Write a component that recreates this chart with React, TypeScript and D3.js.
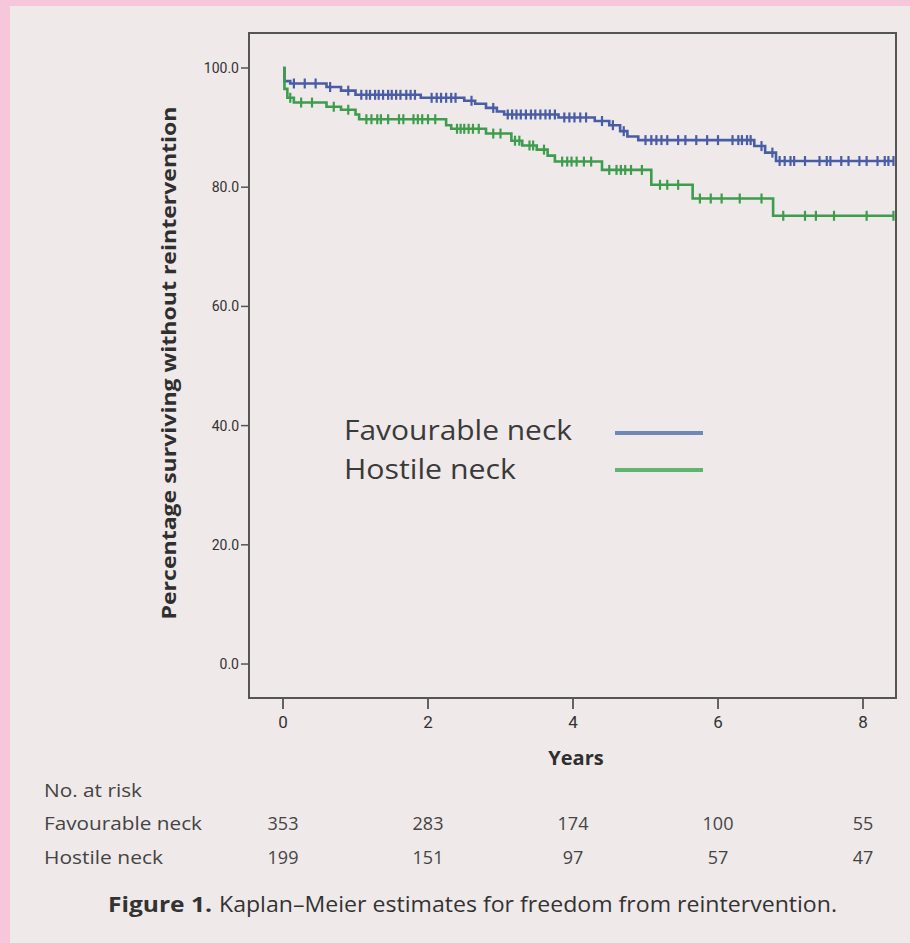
import React from 'react';
import * as d3 from 'd3';

const yearTicks = [0, 2, 4, 6, 8];
const survTicks = [0, 20, 40, 60, 80, 100];

const favTime = [0, 0.02, 0.1, 0.6, 0.8, 1.0, 1.9, 2.5, 2.65, 2.8, 2.95, 3.05, 3.8, 4.3, 4.5, 4.65, 4.75, 4.9, 6.5, 6.65, 6.8, 8.43];
const favSurv = [100, 97.8, 97.4, 96.8, 96.2, 95.5, 95.0, 94.5, 94.0, 93.3, 92.7, 92.2, 91.7, 91.1, 90.4, 89.4, 88.5, 87.9, 86.9, 85.8, 84.4, 84.4];
const favCensor = [0.15, 0.3, 0.45, 0.65, 0.9, 1.08, 1.15, 1.2, 1.27, 1.32, 1.38, 1.45, 1.5, 1.56, 1.62, 1.7, 1.76, 1.82, 2.05, 2.12, 2.18, 2.25, 2.32, 2.38, 2.6, 2.9, 3.1, 3.16, 3.22, 3.28, 3.35, 3.42, 3.48, 3.55, 3.62, 3.68, 3.75, 3.88, 3.95, 4.02, 4.1, 4.18, 4.4, 4.55, 4.7, 5.0, 5.08, 5.15, 5.22, 5.3, 5.45, 5.55, 5.7, 5.85, 6.0, 6.2, 6.28, 6.33, 6.4, 6.45, 6.6, 6.75, 6.85, 6.92, 7.0, 7.05, 7.2, 7.4, 7.5, 7.55, 7.7, 7.8, 7.95, 8.05, 8.2, 8.3, 8.35, 8.42];

const hostTime = [0, 0.02, 0.06, 0.15, 0.6, 0.8, 1.0, 1.05, 2.25, 2.32, 2.8, 3.15, 3.3, 3.5, 3.65, 3.75, 4.4, 5.08, 5.65, 6.76, 8.43];
const hostSurv = [100, 96.5, 95.0, 94.2, 93.5, 93.0, 92.2, 91.4, 90.4, 89.8, 89.0, 87.8, 87.0, 86.3, 85.3, 84.3, 82.9, 80.4, 78.1, 75.2, 75.2];
const hostCensor = [0.1, 0.25, 0.4, 0.7, 0.9, 1.15, 1.22, 1.3, 1.35, 1.45, 1.6, 1.66, 1.8, 1.86, 1.92, 2.0, 2.1, 2.4, 2.45, 2.5, 2.56, 2.62, 2.7, 2.9, 3.0, 3.2, 3.26, 3.4, 3.45, 3.6, 3.85, 3.92, 3.98, 4.05, 4.15, 4.25, 4.5, 4.6, 4.66, 4.72, 4.8, 4.95, 5.2, 5.3, 5.45, 5.75, 5.9, 6.05, 6.3, 6.6, 6.9, 7.2, 7.35, 7.6, 8.05, 8.42];

const groupNames = ['Favourable neck', 'Hostile neck'];
const riskFav = [353, 283, 174, 100, 55];
const riskHost = [199, 151, 97, 57, 47];

const W = 910;
const H = 943;
const frame = { left: 249, right: 896, top: 33, bottom: 698 };

const x = d3.scaleLinear().domain([-0.469, 8.455]).range([frame.left, frame.right]);
const y = d3.scaleLinear().domain([-5.7, 105.87]).range([frame.bottom, frame.top]);

function stepAt(times: number[], surv: number[], t: number) {
  let v = surv[0];
  for (let i = 0; i < times.length; i++) {
    if (times[i] <= t) v = surv[i];
  }
  return v;
}

const line = d3
  .line<[number, number]>()
  .x((d) => x(d[0]))
  .y((d) => y(d[1]))
  .curve(d3.curveStepAfter);

const series = [
  { name: groupNames[0], times: favTime, surv: favSurv, censor: favCensor, color: '#4a5ca6', legend: '#6f88b9' },
  { name: groupNames[1], times: hostTime, surv: hostSurv, censor: hostCensor, color: '#3e9d4e', legend: '#5fb56c' },
];

export default function App() {
  const narrow = "'Liberation Sans Narrow', 'Roboto', sans-serif";
  const sans = "'Open Sans', 'Lato', sans-serif";
  return (
    <svg
      width={W}
      height={H}
      viewBox={`0 0 ${W} ${H}`}
      style={{ position: 'absolute', left: 0, top: 0, display: 'block' }}
    >
      <defs>
        <filter id="soft" x="-5%" y="-5%" width="110%" height="110%">
          <feGaussianBlur stdDeviation="0.6" />
        </filter>
      </defs>
      <rect x={0} y={0} width={W} height={H} fill="#f6c7da" />
      <rect x={10} y={6} width={W - 10} height={H - 6} fill="#efe9e9" />

      {/* frame */}
      <rect
        x={frame.left}
        y={frame.top}
        width={frame.right - frame.left}
        height={frame.bottom - frame.top}
        fill="none"
        stroke="#555"
        strokeWidth={2}
      />

      {/* y ticks */}
      {survTicks.map((t) => (
        <g key={`y${t}`}>
          <line x1={frame.left - 8} x2={frame.left} y1={y(t)} y2={y(t)} stroke="#555" strokeWidth={1.5} />
          <text
            x={frame.left - 10}
            y={y(t) + 5}
            textAnchor="end"
            fontFamily={narrow}
            fontSize={14}
            fill="#333"
          >
            {t.toFixed(1)}
          </text>
        </g>
      ))}

      {/* x ticks */}
      {yearTicks.map((t) => (
        <g key={`x${t}`}>
          <line x1={x(t)} x2={x(t)} y1={frame.bottom} y2={frame.bottom + 11} stroke="#555" strokeWidth={1.8} />
          <text x={x(t)} y={frame.bottom + 30} textAnchor="middle" fontFamily={narrow} fontSize={17} fill="#333">
            {t}
          </text>
        </g>
      ))}

      {/* axis titles */}
      <text
        transform={`translate(176, 363) rotate(-90)`}
        textAnchor="middle"
        fontFamily={sans}
        fontWeight="bold"
        fontSize={19}
        fill="#2f2f2f"
        textLength={513}
        lengthAdjust="spacingAndGlyphs"
      >
        Percentage surviving without reintervention
      </text>
      <text x={576} y={765} textAnchor="middle" fontFamily={sans} fontWeight="bold" fontSize={20} fill="#2f2f2f">
        Years
      </text>

      {/* curves */}
      <g filter="url(#soft)">
        {series.map((s) => {
          const pts = s.times.map((t, i) => [t, s.surv[i]] as [number, number]);
          return (
            <g key={s.name}>
              <path d={line(pts) || ''} fill="none" stroke={s.color} strokeWidth={2.6} />
              {s.censor.map((c, i) => {
                const v = stepAt(s.times, s.surv, c);
                return (
                  <line
                    key={i}
                    x1={x(c)}
                    x2={x(c)}
                    y1={y(v) - 5}
                    y2={y(v) + 5}
                    stroke={s.color}
                    strokeWidth={2.2}
                  />
                );
              })}
            </g>
          );
        })}
      </g>

      {/* legend */}
      {series.map((s, i) => (
        <g key={`lg${i}`}>
          <text
            x={344}
            y={440 + i * 39}
            fontFamily={sans}
            fontSize={27}
            fill="#3a3a3a"
            textLength={i === 0 ? 228 : 172}
            lengthAdjust="spacingAndGlyphs"
          >
            {s.name}
          </text>
          <line x1={615} x2={703} y1={433 + i * 37} y2={433 + i * 37} stroke={s.legend} strokeWidth={4} />
        </g>
      ))}

      {/* risk table */}
      <text x={44} y={797} fontFamily={sans} fontSize={18} fill="#444" textLength={98} lengthAdjust="spacingAndGlyphs">
        No. at risk
      </text>
      {[riskFav, riskHost].map((row, r) => (
        <g key={`r${r}`}>
          <text
            x={44}
            y={830 + r * 34}
            fontFamily={sans}
            fontSize={18}
            fill="#444"
            textLength={r === 0 ? 158 : 119}
            lengthAdjust="spacingAndGlyphs"
          >
            {groupNames[r]}
          </text>
          {row.map((n, i) => (
            <text key={i} x={x(yearTicks[i])} y={830 + r * 34} textAnchor="middle" fontFamily={sans} fontSize={18} fill="#444">
              {n}
            </text>
          ))}
        </g>
      ))}

      {/* caption */}
      <text
        x={108}
        y={912}
        fontFamily={sans}
        fontWeight="bold"
        fontSize={21}
        fill="#333"
        textLength={104}
        lengthAdjust="spacingAndGlyphs"
      >
        Figure 1.
      </text>
      <text
        x={219}
        y={912}
        fontFamily={sans}
        fontSize={21}
        fill="#333"
        textLength={618}
        lengthAdjust="spacingAndGlyphs"
      >
        Kaplan–Meier estimates for freedom from reintervention.
      </text>
    </svg>
  );
}
